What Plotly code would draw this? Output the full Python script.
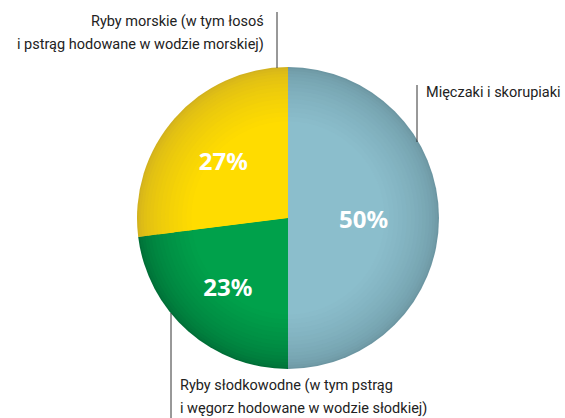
import plotly.graph_objects as go

# ---- data ----
categories = ["Mięczaki i skorupiaki",
              "Ryby słodkowodne (w tym pstrąg i węgorz hodowane w wodzie słodkiej)",
              "Ryby morskie (w tym łosoś i pstrąg hodowane w wodzie morskiej)"]
values = [50, 23, 27]
label_lines = {
    0: ["Mięczaki i skorupiaki"],
    1: ["Ryby słodkowodne (w tym pstrąg", "i węgorz hodowane w wodzie słodkiej)"],
    2: ["Ryby morskie (w tym łosoś", "i pstrąg hodowane w wodzie morskiej)"],
}

W, H = 565, 418
CX, CY, R = 288, 218, 151

center_cols = [(139, 190, 204), (0, 161, 75), (255, 220, 0)]
edge_cols = [(108, 150, 162), (0, 110, 55), (210, 178, 30)]


def px(x):
    return x / W


def py(y):
    return 1 - y / H


def mix(a, b, t):
    return "rgb(%d,%d,%d)" % tuple(round(a[i] + (b[i] - a[i]) * t) for i in range(3))


fig = go.Figure()

# layered pies to mimic radial shading
n = 16
fracs = [1.0 - 0.36 * (k / (n - 1)) ** 1.3 for k in range(n)]
for k, f in enumerate(fracs):
    t = k / (n - 1)
    cols = [mix(edge_cols[i], center_cols[i], t ** 0.7) for i in range(3)]
    r = R * f
    fig.add_trace(go.Pie(
        values=values, labels=categories, sort=False, direction="clockwise",
        rotation=0, marker=dict(colors=cols, line=dict(width=0)),
        textinfo="none", hoverinfo="skip", showlegend=False,
        domain=dict(x=[px(CX - r), px(CX + r)], y=[py(CY + r), py(CY - r)]),
    ))

# text-carrying transparent top layer
fig.add_trace(go.Pie(
    values=values, labels=categories, sort=False, direction="clockwise",
    rotation=0, marker=dict(colors=["rgba(0,0,0,0)"] * 3, line=dict(width=0)),
    texttemplate="%{value}%", textposition="inside",
    insidetextorientation="horizontal",
    textfont=dict(family="Noto Sans", size=24, color="white", weight="bold"),
    hoverinfo="label+percent", showlegend=False,
    domain=dict(x=[px(CX - R), px(CX + R)], y=[py(CY + R), py(CY - R)]),
))

# leader lines
shapes = []
for (x, y0, y1) in [(277, 12, 68), (417, 85, 142), (171, 313, 418)]:
    shapes.append(dict(type="line", xref="paper", yref="paper",
                       x0=px(x), x1=px(x), y0=py(y0), y1=py(y1),
                       line=dict(color="#333333", width=1)))

font = dict(family="Roboto", size=14.5, color="#222222")
ann = []
for line, y in zip(label_lines[2], [22, 45]):
    ann.append(dict(text=line, x=px(266), y=py(y), xref="paper", yref="paper",
                    xanchor="right", yanchor="middle", showarrow=False, font=font))
ann.append(dict(text=label_lines[0][0], x=px(424), y=py(92), xref="paper", yref="paper",
                xanchor="left", yanchor="middle", showarrow=False, font=font))
for line, y in zip(label_lines[1], [385, 408]):
    ann.append(dict(text=line, x=px(178), y=py(y), xref="paper", yref="paper",
                    xanchor="left", yanchor="middle", showarrow=False, font=font))

fig.update_layout(width=W, height=H, margin=dict(l=0, r=0, t=0, b=0),
                  paper_bgcolor="white", plot_bgcolor="white",
                  shapes=shapes, annotations=ann)

fig.write_html("out.html", config={"displayModeBar": False},
               post_script="document.body.style.margin='0';document.body.style.overflow='hidden';")
